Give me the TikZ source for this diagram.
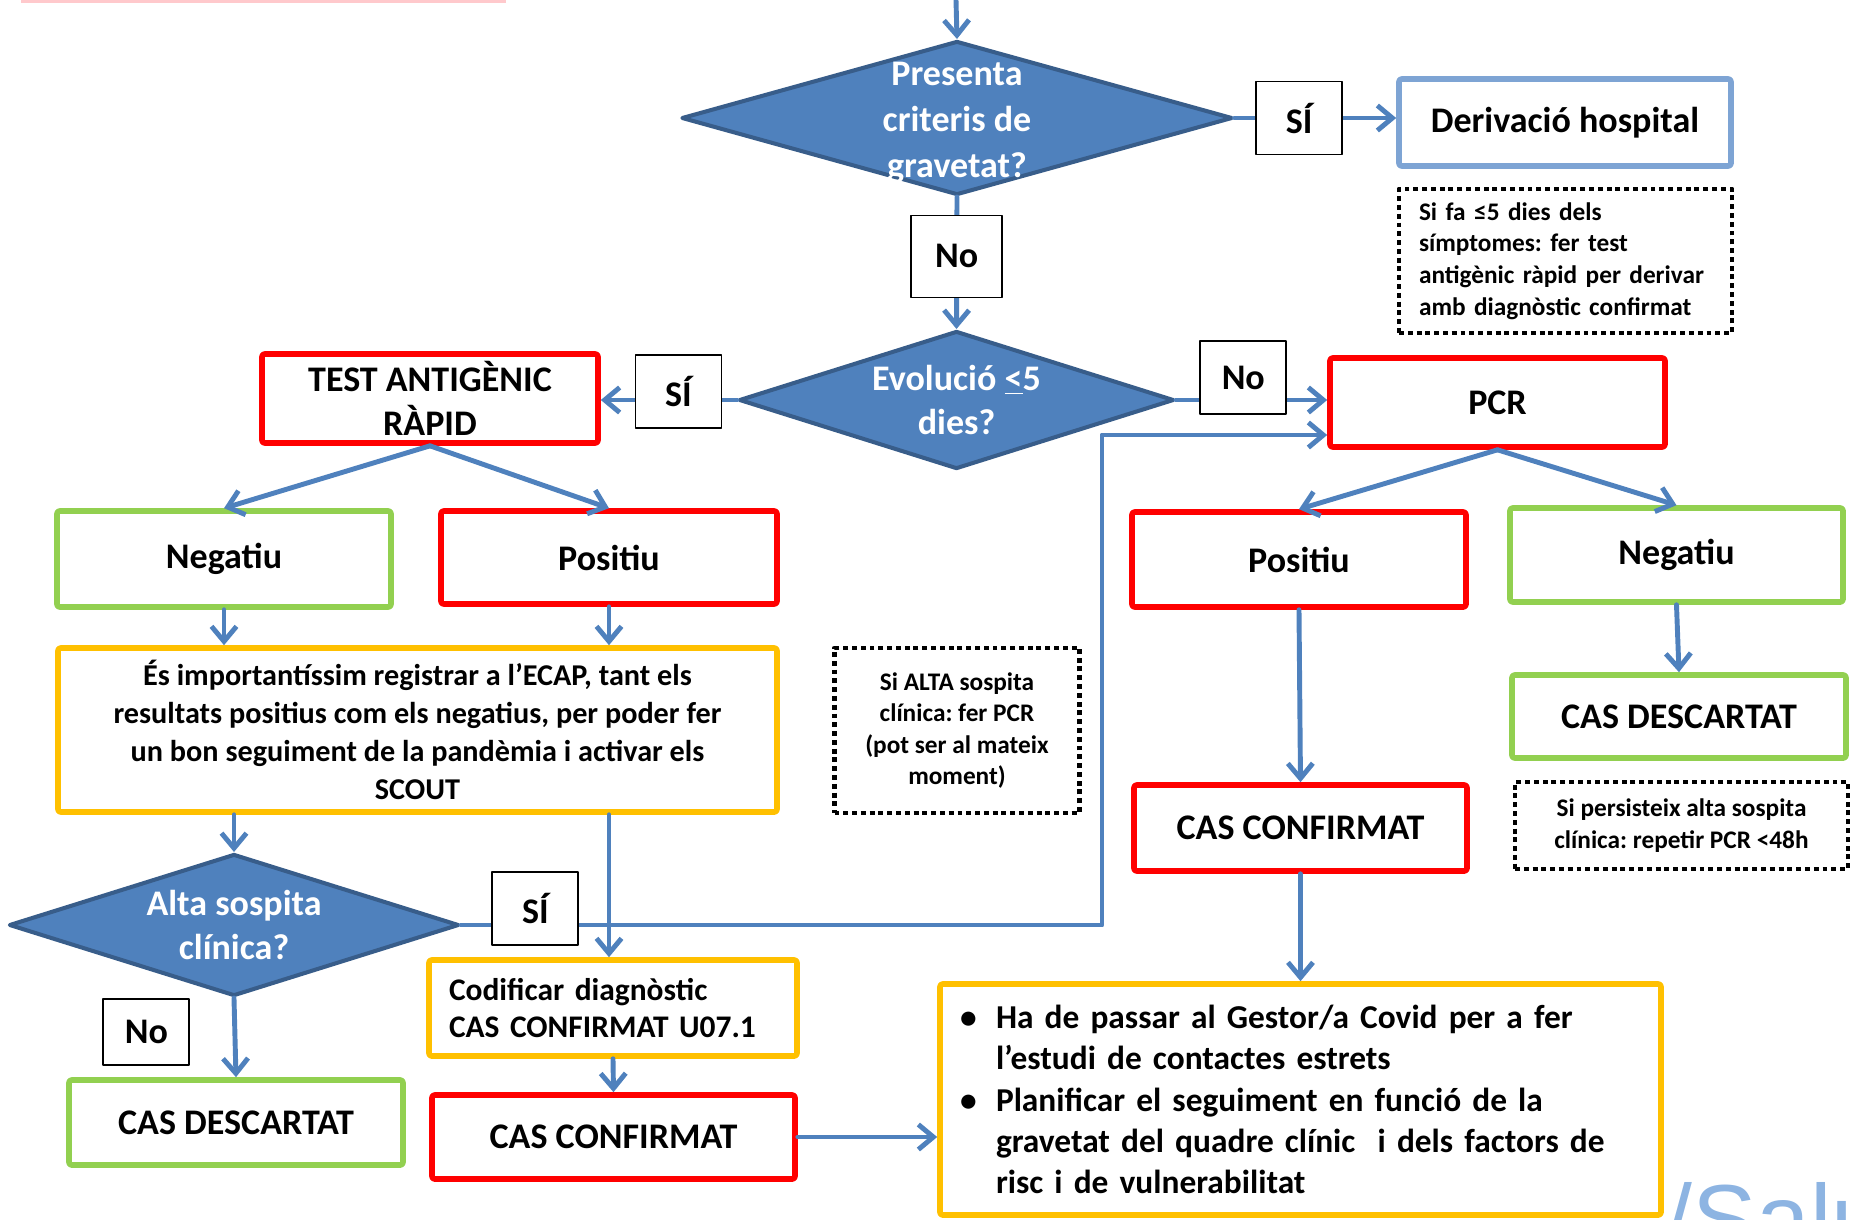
\documentclass[tikz,border=0pt]{standalone}
\usepackage{fontspec}
\setmainfont{Carlito}
\newfontfamily\wmfont{Liberation Sans}
\usetikzlibrary{shapes.geometric,arrows.meta}
\frenchspacing

\definecolor{flowblue}{HTML}{4F81BD}
\definecolor{diaedge}{HTML}{385D8A}
\definecolor{boxred}{HTML}{FF0000}
\definecolor{boxgreen}{HTML}{92D050}
\definecolor{boxyellow}{HTML}{FFC000}
\definecolor{boxsky}{HTML}{7EA4D4}
\definecolor{wmark}{HTML}{8DB4E2}
\definecolor{pinkline}{HTML}{FFC9CC}

\newcommand\fntbig{\fontsize{20.5}{25}\selectfont\bfseries}
\newcommand\fntinfo{\fontsize{17.2}{21.5}\selectfont\bfseries}
\newcommand\fntcod{\fontsize{17.9}{21.5}\selectfont\bfseries}
\newcommand\fntlist{\fontsize{19}{23.5}\selectfont\bfseries}
\newcommand\fntnote{\fontsize{14.4}{18}\selectfont\bfseries}

\begin{document}
\begin{tikzpicture}[line join=round]
	\useasboundingbox (0,0) rectangle (37.08,-24.38);
	\def \colleft{4.48cm}
	\def \colmid{19.14cm}
	\def \colright{33.53cm}

	\tikzstyle{flow}=[draw=flowblue,line width=2.8pt,line cap=round,-{Straight Barb[length=0.3cm,width=0.5cm]}]
	\tikzstyle{dec-node}=[diamond,fill=flowblue,draw=diaedge,line width=2.3pt,inner sep=0pt]
	\tikzstyle{dec-text}=[text=white,align=center,font=\fntbig]
	\tikzstyle{fc-box}=[rectangle,rounded corners=1.5pt,line width=3.2pt,fill=white,inner sep=0pt,align=center,font=\fntbig]
	\tikzstyle{red-box}=[fc-box,draw=boxred]
	\tikzstyle{green-box}=[fc-box,draw=boxgreen]
	\tikzstyle{yellow-box}=[fc-box,draw=boxyellow]
	\tikzstyle{note-box}=[rectangle,draw=black,line width=2.8pt,dash pattern=on 2.8pt off 2.2pt,inner sep=0pt,font=\fntnote]
	% answer labels
	\tikzstyle{yn}=[rectangle,draw=black,line width=1pt,fill=white,inner sep=0pt,minimum width=1.72cm,minimum height=1.46cm,font=\fntbig]

	% decisions
	\node[dec-node,minimum width=11.02cm,minimum height=3.08cm] (crit) at (\colmid,-2.36) {};
	\node[dec-text,yshift=-0.1cm,font=\fontsize{20.5}{26}\selectfont\bfseries] (crit-txt) at (crit) {Presenta\\criteris de\\gravetat?};
	\node[dec-node,minimum width=8.70cm,minimum height=2.76cm] (evol) at (19.13,-8.0) {};
	\node[dec-text] (evol-txt) at (evol) {Evolució \underline{<}5\\dies?};
	\node[dec-node,minimum width=9.0cm,minimum height=2.84cm] (alta) at (4.68,-18.5) {};
	\node[dec-text] (alta-txt) at (alta) {Alta sospita\\clínica?};

	% top right
	\node[fc-box,draw=boxsky,minimum width=6.64cm,minimum height=1.74cm] (hosp) at (31.30,-2.45) {Derivació hospital};
	\node[note-box,minimum width=6.66cm,minimum height=2.88cm,text width=5.86cm,align=left] (note-hosp) at (31.31,-5.22)
		{Si fa ≤5 dies dels\\símptomes: fer test\\antigènic ràpid per derivar\\amb diagnòstic confirmat};

	% test branch
	\node[red-box,minimum width=6.72cm,minimum height=1.78cm] (antigen) at (8.60,-7.97) {TEST ANTIGÈNIC\\RÀPID};
	\node[green-box,minimum width=6.68cm,minimum height=1.92cm] (neg-a) at (\colleft,-11.18) {Negatiu};
	\node[red-box,minimum width=6.72cm,minimum height=1.86cm] (pos-a) at (12.18,-11.15) {Positiu};
	\node[yellow-box,minimum width=14.38cm,minimum height=3.28cm,font=\fntinfo] (ecap) at (8.35,-14.6)
		{És importantíssim registrar a l’ECAP, tant els\\resultats positius com els negatius, per poder fer\\un bon seguiment de la pandèmia i activar els\\SCOUT};
	\node[yellow-box,minimum width=7.36cm,minimum height=1.92cm,text width=6.56cm,align=left,font=\fntcod] (codif) at (12.26,-20.16)
		{Codificar diagnòstic\\CAS CONFIRMAT U07.1};
	\node[red-box,minimum width=7.26cm,minimum height=1.68cm] (conf-a) at (12.27,-22.74) {CAS CONFIRMAT};
	\node[green-box,minimum width=6.68cm,minimum height=1.70cm] (desc-a) at (4.72,-22.45) {CAS DESCARTAT};
	\node[note-box,minimum width=4.90cm,minimum height=3.30cm,align=center] (note-alta) at (\colmid,-14.61)
		{Si ALTA sospita\\clínica: fer PCR\\(pot ser al mateix\\moment)};

	% pcr branch
	\node[red-box,minimum width=6.70cm,minimum height=1.78cm] (pcr) at (29.95,-8.05) {PCR};
	\node[red-box,minimum width=6.68cm,minimum height=1.90cm] (pos-b) at (25.98,-11.19) {Positiu};
	\node[green-box,minimum width=6.66cm,minimum height=1.88cm] (neg-b) at (\colright,-11.10) {Negatiu};
	\node[red-box,minimum width=6.66cm,minimum height=1.72cm] (conf-b) at (26.01,-16.56) {CAS CONFIRMAT};
	\node[green-box,minimum width=6.68cm,minimum height=1.66cm] (desc-b) at (33.58,-14.33) {CAS DESCARTAT};
	\node[note-box,minimum width=6.66cm,minimum height=1.74cm,align=center] (note-pcr) at (33.63,-16.51)
		{Si persisteix alta sospita\\clínica: repetir PCR <48h};
	\node[yellow-box,minimum width=14.42cm,minimum height=4.62cm,text width=13.62cm,align=left,font=\fntlist] (gestor) at (26.01,-21.99)
		{\makebox[0.72cm][l]{\textbullet}Ha de passar al Gestor/a Covid per a fer\\
		 \hspace*{0.72cm}l’estudi de contactes estrets\\
		 \makebox[0.72cm][l]{\textbullet}Planificar el seguiment en funció de la\\
		 \hspace*{0.72cm}gravetat del quadre clínic \ i dels factors de\\
		 \hspace*{0.72cm}risc i de vulnerabilitat};

	% connectors
	\coordinate (entry) at (19.12,0);
	\coordinate[yshift=-0.65cm] (pcr-in) at (pcr.west);
	\draw[flow] (entry) -- (crit.north);
	\draw[flow] (crit.east) -- node[yn,pos=0.40] (si-hosp) {SÍ} (crit.east -| hosp.west);
	\draw[flow] (crit.south) -- node[yn,pos=0.45,minimum width=1.82cm,minimum height=1.64cm] (no-crit) {No} (evol.north);
	\draw[flow] (evol.west) -- node[yn,pos=0.43,yshift=0.17cm] (si-evol) {SÍ} (evol.west -| antigen.east);
	\draw[flow] (evol.east) -- node[yn,pos=0.445,yshift=0.45cm] (no-evol) {No} (evol.east -| pcr.west);
	\draw[flow] (antigen.south) -- (neg-a.north);
	\draw[flow] (antigen.south) -- (pos-a.north);
	\draw[flow] (neg-a.south) -- (neg-a.south |- ecap.north);
	\draw[flow] (pos-a.south) -- (pos-a.south |- ecap.north);
	\draw[flow] (ecap.south -| alta.north) -- (alta.north);
	\draw[flow] (ecap.south -| pos-a.south) -- (pos-a.south |- codif.north);
	\draw[flow] (codif.south) -- (conf-a.north);
	\draw[flow] (alta.south) -- node[yn,pos=0.43,xshift=-1.77cm,minimum height=1.32cm] (no-alta) {No} (desc-a.north);
	\draw[flow] (alta.east) -- node[yn,pos=0.116,yshift=0.33cm] (si-alta) {SÍ} (22.04,-18.5) |- (pcr-in);
	\draw[flow] (pcr.south) -- (pos-b.north);
	\draw[flow] (pcr.south) -- (neg-b.north);
	\draw[flow] (pos-b.south) -- (conf-b.north);
	\draw[flow] (neg-b.south) -- (desc-b.north);
	\draw[flow] (conf-b.south) -- (gestor.north);
	\draw[flow] (conf-a.east) -- (conf-a.east -| gestor.west);

	% page leftovers
	\draw[pinkline,line width=2pt] (0.42,-0.02) -- (10.12,-0.02);
	\begin{scope}
		\clip (0,0) rectangle (37.08,-24.38);
		\node[anchor=base west,text=wmark,inner sep=0pt,font=\wmfont\fontsize{55}{60}\selectfont] (salut) at (33.30,-25.04) {/Salu};
	\end{scope}
\end{tikzpicture}
\end{document}
